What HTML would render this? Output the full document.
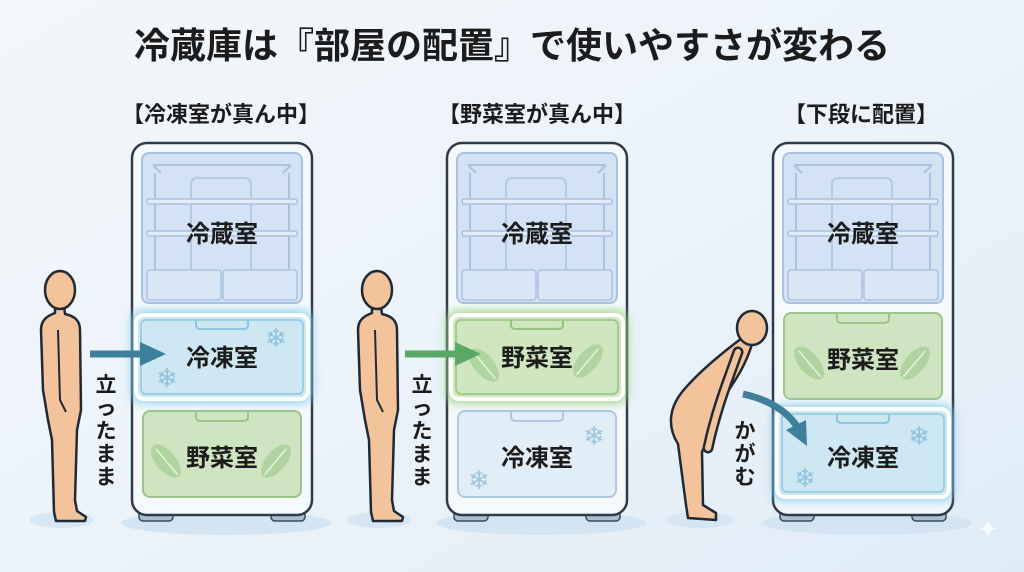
<!DOCTYPE html>
<html><head><meta charset="utf-8"><style>
html,body{margin:0;padding:0;width:1024px;height:572px;overflow:hidden}
svg{display:block}
text{font-family:"Liberation Sans","Noto Sans CJK JP",sans-serif;font-weight:bold;fill:#1c1c1c}
</style></head><body>
<svg width="1024" height="572" viewBox="0 0 1024 572" xmlns="http://www.w3.org/2000/svg">
<defs>
<linearGradient id="bg" x1="0" y1="0" x2="1" y2="1"><stop offset="0" stop-color="#f3f7fb"/><stop offset="0.6" stop-color="#eaf2f9"/><stop offset="1" stop-color="#dfecf7"/></linearGradient>
<filter id="glow" x="-20%" y="-30%" width="140%" height="160%"><feGaussianBlur stdDeviation="5"/></filter>
<g id="top">
 <rect x="11" y="10" width="160" height="150" rx="7" fill="#d3e2f5" stroke="#a9c2e0" stroke-width="2"/>
 <path d="M22,22 L160,22 M22,22 L30,30 M160,22 L152,30 M24,30 L24,150 M158,30 L158,150" stroke="#a9c2e0" stroke-width="2" fill="none"/>
 <rect x="60" y="35" width="60" height="105" rx="6" fill="none" stroke="#b3c9e4" stroke-width="2"/>
 <rect x="16" y="56" width="150" height="5" rx="2" fill="#e3edf9" stroke="#a9c2e0" stroke-width="1.5"/>
 <rect x="16" y="88" width="150" height="5" rx="2" fill="#e3edf9" stroke="#a9c2e0" stroke-width="1.5"/>
 <rect x="16" y="127" width="74" height="30" rx="3" fill="#d9e6f6" stroke="#a9c2e0" stroke-width="1.5"/>
 <rect x="92" y="127" width="74" height="30" rx="3" fill="#d9e6f6" stroke="#a9c2e0" stroke-width="1.5"/>
</g>
<g id="body">
 <ellipse cx="95" cy="380" rx="105" ry="12" fill="#d3e5f3"/>
 <rect x="8" y="366" width="34" height="12" rx="4" fill="#a9bfd2" stroke="#3a4b5c" stroke-width="1.5"/>
 <rect x="140" y="366" width="34" height="12" rx="4" fill="#a9bfd2" stroke="#3a4b5c" stroke-width="1.5"/>
 <rect x="1" y="0" width="180" height="372" rx="15" fill="#f5f9fc" stroke="#2e3b4a" stroke-width="2.5"/>
</g>
<g id="leaves">
 <ellipse cx="0" cy="0" rx="10" ry="20" fill="#a5cf95" opacity="0.75"/>
 <path d="M0,-16 L0,18" stroke="#e6f3e0" stroke-width="1.5"/>
</g>
<g id="stand">
 <ellipse cx="62" cy="520" rx="32" ry="8" fill="#cfe3f2" opacity="0.8"/>
 <path d="M55,306 L64,306 L65,314 C74,316 80,320 80,330 L81,410 L77,430 L75,500 L77,511 L86,517 L85,521 L56,521 L54,512 L52,440 L48,420 L43,390 L41,330 C41,320 47,316 55,313 Z" fill="#f3c49c" stroke="#1f2a36" stroke-width="2.5" stroke-linejoin="round"/>
 <ellipse cx="60" cy="290" rx="15" ry="19" fill="#f3c49c" stroke="#1f2a36" stroke-width="2.5"/>
 <path d="M58,330 L60,400 L66,412" stroke="#1f2a36" stroke-width="2" fill="none"/>
</g>
</defs>
<rect width="1024" height="572" fill="url(#bg)"/>
<text x="512" y="58" text-anchor="middle" font-size="36">冷蔵庫は『部屋の配置』で使いやすさが変わる</text>
<text x="221" y="122" text-anchor="middle" font-size="22">【冷凍室が真ん中】</text>
<text x="537" y="122" text-anchor="middle" font-size="22">【野菜室が真ん中】</text>
<text x="861" y="122" text-anchor="middle" font-size="22">【下段に配置】</text>

<!-- Fridge 1 -->
<g transform="translate(131,143)">
 <use href="#body"/><use href="#top"/>
 <text x="91" y="99" text-anchor="middle" font-size="24">冷蔵室</text>
 <rect x="12" y="268" width="158" height="86" rx="7" fill="#cfe4c0" stroke="#9dc58a" stroke-width="2"/>
 <path d="M65,268 L65,274 Q65,278 70,278 L112,278 Q117,278 117,274 L117,268" fill="none" stroke="#9dc58a" stroke-width="2"/>
 <use href="#leaves" transform="translate(35,318) rotate(-40)"/>
 <use href="#leaves" transform="translate(145,318) rotate(40)"/>
 <text x="91" y="323" text-anchor="middle" font-size="24">野菜室</text>
 <rect x="1" y="168" width="180" height="92" rx="9" fill="#7fcbea" opacity="0.9" filter="url(#glow)"/>
 <rect x="5" y="172" width="172" height="84" rx="8" fill="#cde7f3" stroke="#ffffff" stroke-width="4"/>
 <rect x="10" y="177" width="162" height="74" rx="5" fill="none" stroke="#8cc6e0" stroke-width="1.5"/>
 <path d="M65,177 L65,182 Q65,186 70,186 L112,186 Q117,186 117,182 L117,177" fill="none" stroke="#8cc6e0" stroke-width="2"/>
 <text x="91" y="223" text-anchor="middle" font-size="24">冷凍室</text>
 <text x="145" y="204" text-anchor="middle" font-size="26" style="fill:#8fc3dc;font-weight:normal">❄</text>
 <text x="36" y="244" text-anchor="middle" font-size="26" style="fill:#8fc3dc;font-weight:normal">❄</text>
</g>
<use href="#stand"/>
<path d="M90,354 L145,354" stroke="#3e7f9c" stroke-width="7"/>
<path d="M140,342 L166,354 L140,366 Z" fill="#3e7f9c"/>
<text font-size="21" x="106" y="392" text-anchor="middle">立</text>
<text font-size="21" x="106" y="415" text-anchor="middle">っ</text>
<text font-size="21" x="106" y="438" text-anchor="middle">た</text>
<text font-size="21" x="106" y="461" text-anchor="middle">ま</text>
<text font-size="21" x="106" y="484" text-anchor="middle">ま</text>

<!-- Fridge 2 -->
<g transform="translate(446,143)">
 <use href="#body"/><use href="#top"/>
 <text x="91" y="99" text-anchor="middle" font-size="24">冷蔵室</text>
 <rect x="12" y="268" width="158" height="86" rx="7" fill="#e1edf7" stroke="#aec8e0" stroke-width="2"/>
 <path d="M65,268 L65,274 Q65,278 70,278 L112,278 Q117,278 117,274 L117,268" fill="none" stroke="#aec8e0" stroke-width="2"/>
 <text x="91" y="323" text-anchor="middle" font-size="24">冷凍室</text>
 <text x="148" y="302" text-anchor="middle" font-size="26" style="fill:#9cc6dc;font-weight:normal">❄</text>
 <text x="33" y="346" text-anchor="middle" font-size="26" style="fill:#9cc6dc;font-weight:normal">❄</text>
 <rect x="1" y="168" width="180" height="92" rx="9" fill="#93d27c" opacity="0.9" filter="url(#glow)"/>
 <rect x="5" y="172" width="172" height="84" rx="8" fill="#cfe6c0" stroke="#ffffff" stroke-width="4"/>
 <rect x="10" y="177" width="162" height="74" rx="5" fill="none" stroke="#93c47c" stroke-width="1.5"/>
 <path d="M65,177 L65,182 Q65,186 70,186 L112,186 Q117,186 117,182 L117,177" fill="none" stroke="#93c47c" stroke-width="2"/>
 <use href="#leaves" transform="translate(38,222) rotate(-40)"/>
 <use href="#leaves" transform="translate(142,218) rotate(40)"/>
 <text x="91" y="223" text-anchor="middle" font-size="24">野菜室</text>
</g>
<use href="#stand" transform="translate(317,0)"/>
<path d="M405,354 L460,354" stroke="#5aa866" stroke-width="7"/>
<path d="M455,342 L481,354 L455,366 Z" fill="#5aa866"/>
<text font-size="21" x="422" y="392" text-anchor="middle">立</text>
<text font-size="21" x="422" y="415" text-anchor="middle">っ</text>
<text font-size="21" x="422" y="438" text-anchor="middle">た</text>
<text font-size="21" x="422" y="461" text-anchor="middle">ま</text>
<text font-size="21" x="422" y="484" text-anchor="middle">ま</text>

<!-- Fridge 3 -->
<g transform="translate(772,143)">
 <use href="#body"/><use href="#top"/>
 <text x="91" y="99" text-anchor="middle" font-size="24">冷蔵室</text>
 <rect x="12" y="170" width="158" height="86" rx="7" fill="#cfe4c0" stroke="#9dc58a" stroke-width="2"/>
 <path d="M65,170 L65,176 Q65,180 70,180 L112,180 Q117,180 117,176 L117,170" fill="none" stroke="#9dc58a" stroke-width="2"/>
 <use href="#leaves" transform="translate(37,220) rotate(-40)"/>
 <use href="#leaves" transform="translate(143,220) rotate(40)"/>
 <text x="91" y="225" text-anchor="middle" font-size="24">野菜室</text>
 <rect x="1" y="262" width="180" height="96" rx="9" fill="#7fcbea" opacity="0.9" filter="url(#glow)"/>
 <rect x="5" y="266" width="172" height="88" rx="8" fill="#cde7f3" stroke="#ffffff" stroke-width="4"/>
 <rect x="10" y="271" width="162" height="78" rx="5" fill="none" stroke="#8cc6e0" stroke-width="1.5"/>
 <path d="M65,271 L65,276 Q65,280 70,280 L112,280 Q117,280 117,276 L117,271" fill="none" stroke="#8cc6e0" stroke-width="2"/>
 <text x="91" y="323" text-anchor="middle" font-size="24">冷凍室</text>
 <text x="147" y="302" text-anchor="middle" font-size="26" style="fill:#8fc3dc;font-weight:normal">❄</text>
 <text x="33" y="344" text-anchor="middle" font-size="26" style="fill:#8fc3dc;font-weight:normal">❄</text>
</g>
<ellipse cx="700" cy="520" rx="34" ry="8" fill="#cfe3f2" opacity="0.8"/>
<path d="M742,338 C726,350 700,370 682,392 C668,410 668,428 678,444 L686,505 L688,518 L716,520 L716,513 L703,505 L702,452 C708,440 714,420 720,403 C732,385 745,368 752,344 Z" fill="#f3c49c" stroke="#1f2a36" stroke-width="2.5" stroke-linejoin="round"/>
<path d="M738,352 C728,380 716,410 708,448" stroke="#1f2a36" stroke-width="11" stroke-linecap="round" fill="none"/>
<path d="M738,352 C728,380 716,410 708,448" stroke="#f3c49c" stroke-width="6" stroke-linecap="round" fill="none"/>
<ellipse cx="752" cy="328" rx="15" ry="17" fill="#f3c49c" stroke="#1f2a36" stroke-width="2.5"/>
<path d="M743,394 C770,400 788,412 798,428" stroke="#3e7f9c" stroke-width="7" fill="none"/>
<path d="M786,430 L807,446 L806,420 Z" fill="#3e7f9c"/>
<text font-size="21" x="745" y="438" text-anchor="middle">か</text>
<text font-size="21" x="745" y="461" text-anchor="middle">が</text>
<text font-size="21" x="745" y="484" text-anchor="middle">む</text>
<text x="988" y="538" text-anchor="middle" font-size="26" style="fill:#ffffff;font-weight:normal;opacity:0.8">✦</text>
</svg>
</body></html>
